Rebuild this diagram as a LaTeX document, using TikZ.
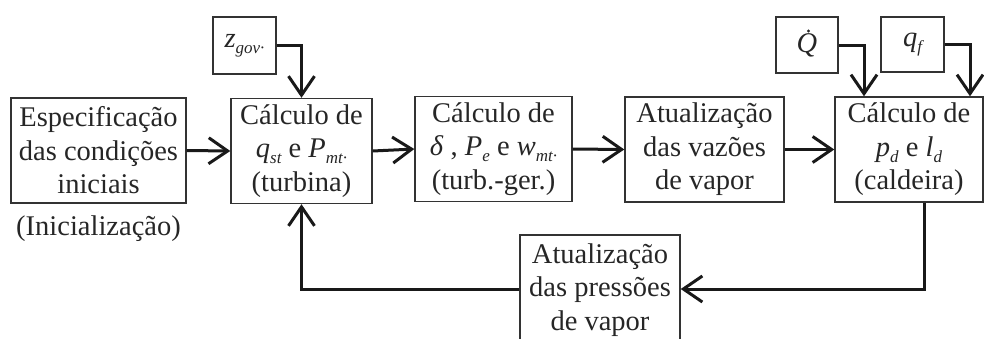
\documentclass[tikz,border=0pt]{standalone}
\usepackage{fontspec}
\setmainfont{Liberation Serif}
\usetikzlibrary{arrows.meta}
\newcommand{\sbs}[1]{\raisebox{-0.2em}{\fontsize{17}{17}\selectfont\itshape #1}}
\begin{document}
\begin{tikzpicture}[x=1pt,y=-1pt,
  box/.style={draw=black!80,line width=1.4pt,minimum height=105pt,align=center,inner sep=0pt,text=black!85,font=\fontsize{28.5}{33.5}\selectfont},
  smallbox/.style={draw=black!80,line width=1.4pt,align=center,inner sep=0pt,text=black!85,font=\fontsize{28.5}{33.5}\selectfont},
  conn/.style={line width=3pt,black!90,-{Straight Barb[length=19pt,width=26pt,line width=3pt]}},
  line/.style={line width=3pt,black!90}]
\useasboundingbox (0,0) rectangle (984,338);
\clip (0,0) rectangle (984,338);
\node[box,minimum width=175pt] (init) at (98.5,150.5) {Especificação\\das condições\\iniciais};
\node[text=black!85,font=\fontsize{28.5}{33.5}\selectfont] (initlbl) at (98.5,229) {(Inicialização)};
\node[box,minimum width=141pt] (turb) at (301.5,151) {Cálculo de\\\textit{q}\sbs{st} e \textit{P}\sbs{mt·}\\(turbina)};
\node[box,minimum width=157pt] (tg) at (493.5,149) {Cálculo de\\\textit{δ} , \textit{P}\sbs{e} e \textit{w}\sbs{mt·}\\(turb.-ger.)};
\node[box,minimum width=159pt] (vaz) at (704.5,149.5) {Atualização\\das vazões\\de vapor};
\node[box,minimum width=148pt] (cald) at (909,149.5) {Cálculo de\\\textit{p}\sbs{d} e \textit{l}\sbs{d}\\(caldeira)};
\node[smallbox,minimum width=63pt,minimum height=57pt] (zgov) at (244.5,45.5) {\textit{z}\sbs{gov·}};
\node[smallbox,minimum width=62pt,minimum height=56pt] (Q) at (807,45) {\textit{Q}};
\fill[black!85] ([xshift=1.5pt,yshift=14pt]Q.center) circle (1.7pt);
\node[smallbox,minimum width=63pt,minimum height=55pt] (qf) at (912.5,44.5) {\textit{q}\sbs{f}};
\node[box,minimum width=160pt,minimum height=110pt] (pres) at (600,290) {Atualização\\das pressões\\de vapor};
\draw[conn] (init.east) -- (turb.west);
\draw[conn] (turb.east) -- (tg.west);
\draw[conn] (tg.east) -- (vaz.west);
\draw[conn] (vaz.east) -- (cald.west);
\draw[conn] (zgov.east) -| (turb.north);
\draw[conn] (Q.east) -| ([xshift=-45pt]cald.north);
\draw[conn] (qf.east) -| ([xshift=61pt]cald.north);
\coordinate (c1) at (924,289);
\draw[conn] ([xshift=15pt]cald.south) -- (c1) -- (c1 -| pres.east);
\draw[conn] (pres.west |- c1) -| (turb.south);
\end{tikzpicture}
\end{document}
